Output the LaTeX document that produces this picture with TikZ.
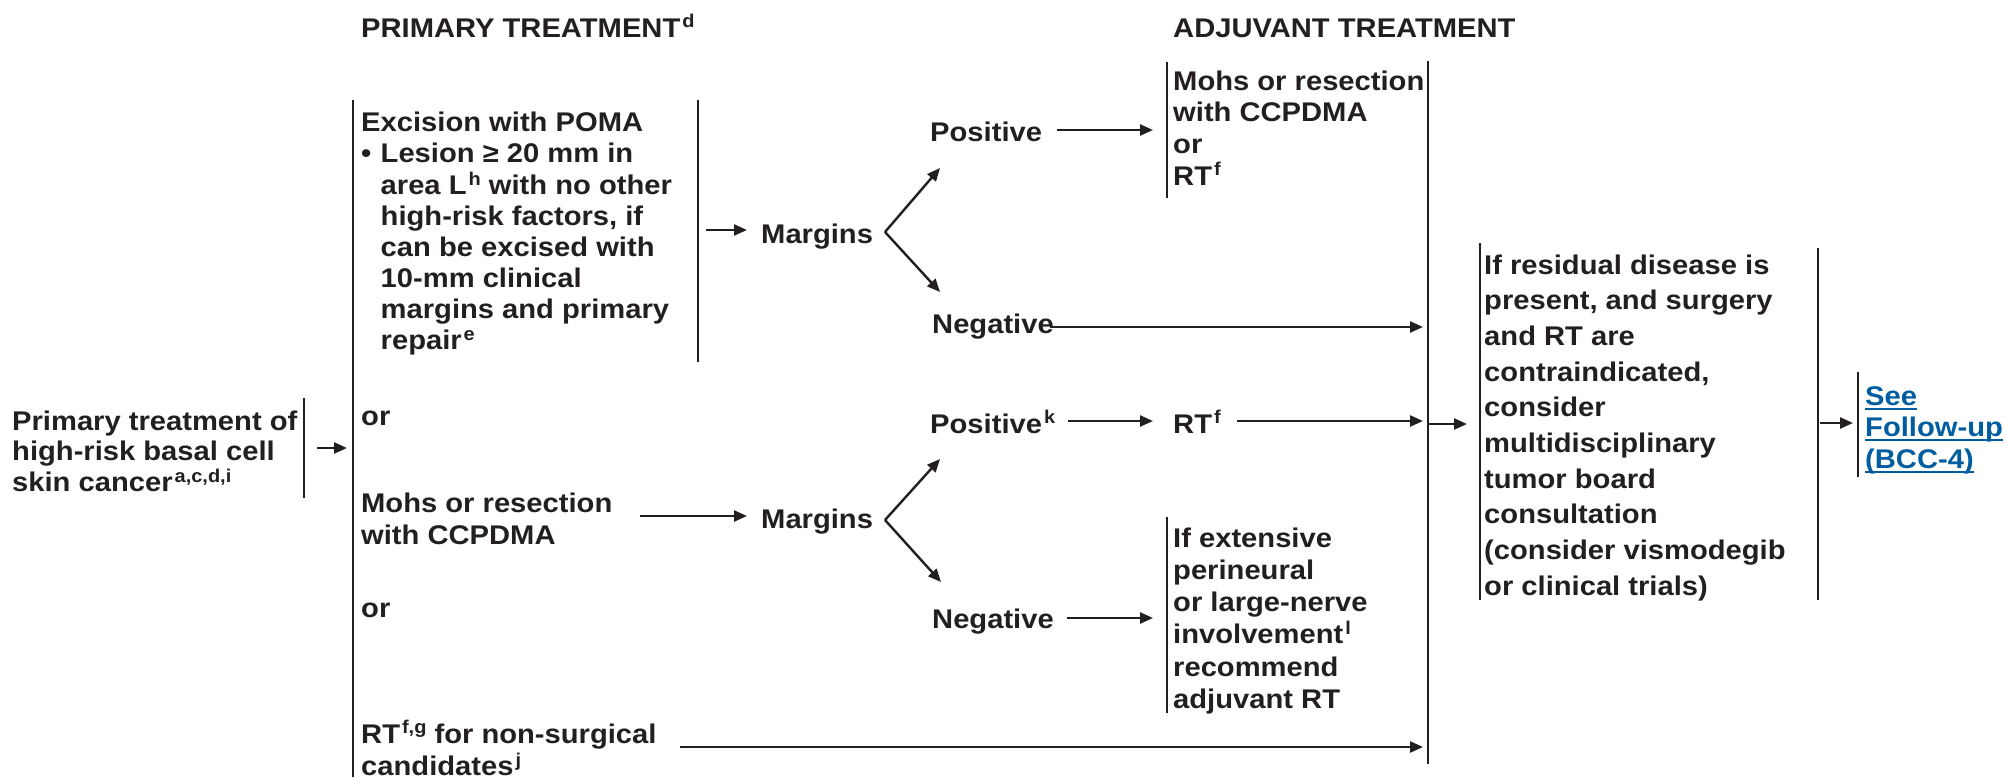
\documentclass[tikz,border=0pt]{standalone}
\usepackage{fontspec}
\setmainfont{Liberation Sans}[FakeStretch=1.08]
\usetikzlibrary{arrows.meta}
\definecolor{ink}{HTML}{231F20}
\definecolor{linkblue}{HTML}{005DA0}
% footnote letters
\newcommand\fn[1]{\kern2pt\raisebox{9.5pt}{\fontsize{18.5}{18.5}\selectfont #1}}
% underlined link text
\newcommand\lnk[1]{\setbox0=\hbox{#1}\rlap{\rule[-4.5pt]{\wd0}{2pt}}\box0}
% left-aligned stack of lines with a given line pitch
\newcommand\stack[2]{{\fontsize{27}{#1}\selectfont\begin{tabular}[t]{@{}l@{}}#2\end{tabular}}}
\tikzset{
  txt/.style={anchor=base west, inner sep=0pt, text=ink,
    font=\fontsize{27}{31}\selectfont\bfseries},
  bar/.style={draw=ink, line width=2.4pt},
  arr/.style={draw=ink, line width=2.4pt, -{Triangle[length=13pt,width=11pt]}}
}
\begin{document}
\begin{tikzpicture}[x=1pt,y=-1pt]
\useasboundingbox (0,0) rectangle (2007,777);

% ---- column headings
\node[txt] (hprim) at (361,37) {PRIMARY TREATMENT\fn{d}};
\node[txt] (hadj)  at (1173,37) {ADJUVANT TREATMENT};

% ---- starting condition
\node[txt] (start) at (12,430) {\stack{30}{Primary treatment of\\high-risk basal cell\\skin cancer\fn{a,c,d,i}}};

% ---- primary treatment options
\node[txt] (exc) at (361,131.7) {\stack{31}{Excision with POMA\\
\makebox[19.5pt][l]{\textbullet}Lesion ≥ 20 mm in\\
\hspace*{19.5pt}area L\fn{h} with no other\\
\hspace*{19.5pt}high-risk factors, if\\
\hspace*{19.5pt}can be excised with\\
\hspace*{19.5pt}10-mm clinical\\
\hspace*{19.5pt}margins and primary\\
\hspace*{19.5pt}repair\fn{e}}};
\node[txt] (or1) at (361,425) {or};
\node[txt] (mohs) at (361,512) {\stack{32.5}{Mohs or resection\\with CCPDMA}};
\node[txt] (or2) at (361,617) {or};
\node[txt] (rt) at (361,743) {\stack{32}{RT\fn{f,g} for non-surgical\\candidates\fn{j}}};

% ---- margins
\node[txt] (marg1) at (761,243) {Margins};
\node[txt] (marg2) at (761,528) {Margins};
\node[txt] (pos1) at (930,141.7) {Positive};
\node[txt] (neg1) at (932,333) {Negative};
\node[txt] (pos2) at (930,433) {Positive\fn{k}};
\node[txt] (neg2) at (932,628) {Negative};

% ---- adjuvant treatment
\node[txt] (adj1) at (1173,90) {\stack{31.5}{Mohs or resection\\with CCPDMA\\or\\RT\fn{f}}};
\node[txt] (rt2) at (1173,433) {RT\fn{f}};
\node[txt] (adj2) at (1173,547) {\stack{32.2}{If extensive\\perineural\\or large-nerve\\involvement\fn{l}\\recommend\\adjuvant RT}};

% ---- residual disease
\node[txt] (resid) at (1484,274) {\stack{35.7}{If residual disease is\\present, and surgery\\and RT are\\contraindicated,\\consider\\multidisciplinary\\tumor board\\consultation\\(consider vismodegib\\or clinical trials)}};

% ---- follow-up link
\node[txt, text=linkblue] (follow) at (1865,405) {\stack{31.5}{\lnk{See}\\\lnk{Follow-up}\\\lnk{(BCC-4)}}};

% ---- brackets
\draw[bar] (304,398) -- (304,498);
\draw[bar] (353,100) -- (353,777);
\draw[bar] (698,100) -- (698,362);
\draw[bar] (1167,62) -- (1167,198);
\draw[bar] (1167,517) -- (1167,713);
\draw[bar] (1428,61) -- (1428,764);
\draw[bar] (1480,243) -- (1480,600);
\draw[bar] (1818,248) -- (1818,600);
\draw[bar] (1858,372) -- (1858,477);

% ---- connector end points
\coordinate (startOut) at (317,448);   \coordinate (primIn)  at (347,448);
\coordinate (excOut)   at (706,230);   \coordinate (marg1In) at (747,230);
\coordinate (apex1)    at (885,232);
\coordinate (pos1In)   at (940,168);   \coordinate (neg1In)  at (940,292);
\coordinate (pos1Out)  at (1057,130);  \coordinate (adj1In)  at (1153,130);
\coordinate (neg1Out)  at (1050,327);  \coordinate (adjA)    at (1423,327);
\coordinate (mohsOut)  at (640,516);   \coordinate (marg2In) at (747,516);
\coordinate (apex2)    at (885,520);
\coordinate (pos2In)   at (940,459);   \coordinate (neg2In)  at (941,582);
\coordinate (pos2Out)  at (1068,421);  \coordinate (rt2In)   at (1153,421);
\coordinate (rt2Out)   at (1237,421);  \coordinate (adjB)    at (1423,421);
\coordinate (neg2Out)  at (1067,618);  \coordinate (adj2In)  at (1153,618);
\coordinate (rtOut)    at (680,747);   \coordinate (adjC)    at (1423,747);
\coordinate (adjOut)   at (1429,424);  \coordinate (residIn) at (1467,424);
\coordinate (residOut) at (1820,423);  \coordinate (followIn) at (1853,423);

% ---- connectors
\draw[arr] (startOut) -- (primIn);
\draw[arr] (excOut) -- (marg1In);
\draw[arr] (apex1) -- (pos1In);
\draw[arr] (apex1) -- (neg1In);
\draw[arr] (pos1Out) -- (adj1In);
\draw[arr] (neg1Out) -- (adjA);
\draw[arr] (mohsOut) -- (marg2In);
\draw[arr] (apex2) -- (pos2In);
\draw[arr] (apex2) -- (neg2In);
\draw[arr] (pos2Out) -- (rt2In);
\draw[arr] (rt2Out) -- (adjB);
\draw[arr] (neg2Out) -- (adj2In);
\draw[arr] (rtOut) -- (adjC);
\draw[arr] (adjOut) -- (residIn);
\draw[arr] (residOut) -- (followIn);
\end{tikzpicture}
\end{document}
